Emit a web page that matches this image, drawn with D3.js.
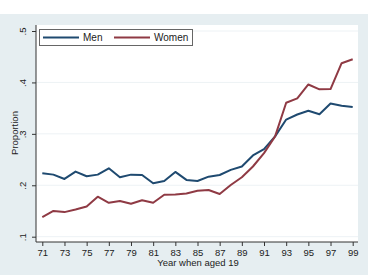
<!DOCTYPE html>
<html lang="en">
<head>
<meta charset="UTF-8">
<style>
    body { margin: 0; background: #fff; }
    svg { display: block; }
    text { font-family: "Liberation Sans", Arial, sans-serif; fill: #222; }
</style>
<script src="https://d3js.org/d3.v7.min.js"></script>
</head>
<body>
<svg width="368" height="275"></svg>
<script>
    var years = d3.range(71, 100);
    var men = [.2235, .2207, .2123, .2266, .2176, .2207, .233, .2157, .2207, .22,
               .204, .2084, .226, .2104, .2084, .2168, .22, .23, .2365, .258,
               .2704, .295, .3278, .3376, .3448, .338, .359, .3546, .352];
    var women = [.138, .150, .1478, .153, .1589, .1777, .166, .1693, .164, .171,
                 .166, .1816, .182, .184, .1895, .1908, .183, .2006, .2157, .2365,
                 .2626, .295, .3604, .3689, .396, .3865, .387, .4374, .445];
    var yTicks = [.1, .2, .3, .4, .5];
    var xTicks = d3.range(71, 100, 2);
    var seriesNames = ["Men", "Women"];
    var seriesColors = ["#1f4a70", "#8f3a44"];

    var svg = d3.select("svg");

    // outer region
    svg.append("rect").attr("width", 368).attr("height", 275).attr("fill", "#e6eef1");
    svg.append("rect").attr("width", 368).attr("height", 14).attr("fill", "#fff");
    // plot region
    svg.append("rect").attr("x", 36).attr("y", 25).attr("width", 322).attr("height", 217).attr("fill", "#fff");

    var x = d3.scaleLinear().domain([71, 99]).range([42.3, 352.7]);
    var y = d3.scaleLinear().domain([.1, .5]).range([236.7, 31]);

    // gridlines
    svg.append("g").selectAll("line")
        .data(yTicks).enter().append("line")
        .attr("x1", 36).attr("x2", 358)
        .attr("y1", function(d) { return y(d); })
        .attr("y2", function(d) { return y(d); })
        .attr("stroke", "#edf2f5").attr("stroke-width", 1);

    // y axis
    var yAxis = svg.append("g").attr("transform", "translate(36,0)")
        .call(d3.axisLeft(y).tickValues(yTicks).tickSize(4).tickPadding(4)
            .tickFormat(function(d) { return d3.format(".1f")(d).replace(/^0/, ""); }));
    yAxis.select(".domain").attr("d", "M0,25V242").attr("stroke", "#333");
    yAxis.selectAll(".tick line").attr("stroke", "#333");
    yAxis.selectAll(".tick text")
        .attr("font-size", 9.5).attr("fill", "#222")
        .attr("text-anchor", "middle")
        .attr("transform", "rotate(-90)")
        .attr("x", 0).attr("y", -10)
        .attr("dy", "0");

    // x axis
    var xAxis = svg.append("g").attr("transform", "translate(0,242)")
        .call(d3.axisBottom(x).tickValues(xTicks).tickSize(4).tickPadding(3).tickFormat(d3.format("d")));
    xAxis.select(".domain").attr("d", "M36,0H358").attr("stroke", "#333");
    xAxis.selectAll(".tick line").attr("stroke", "#333");
    xAxis.selectAll(".tick text").attr("font-size", 9.5).attr("fill", "#222");

    svg.append("text").attr("x", 198).attr("y", 265.5)
        .attr("text-anchor", "middle").attr("font-size", 9.5)
        .text("Year when aged 19");
    svg.append("text").attr("transform", "translate(17.5,133) rotate(-90)")
        .attr("text-anchor", "middle").attr("font-size", 9.5)
        .text("Proportion");

    // lines
    var line = d3.line()
        .x(function(d, i) { return x(years[i]); })
        .y(function(d) { return y(d); });
    [men, women].forEach(function(s, i) {
        svg.append("path").datum(s)
            .attr("d", line)
            .attr("fill", "none")
            .attr("stroke", seriesColors[i])
            .attr("stroke-width", 2)
            .attr("stroke-linejoin", "round");
    });

    // legend
    var legend = svg.append("g");
    legend.append("rect").attr("x", 39.5).attr("y", 29.5).attr("width", 153).attr("height", 16)
        .attr("fill", "#fff").attr("stroke", "#666").attr("stroke-width", 1);
    var lx = [43, 114];
    seriesNames.forEach(function(n, i) {
        legend.append("line").attr("x1", lx[i]).attr("x2", lx[i] + 36)
            .attr("y1", 37.5).attr("y2", 37.5)
            .attr("stroke", seriesColors[i]).attr("stroke-width", 2);
        legend.append("text").attr("x", lx[i] + 40).attr("y", 41.2)
            .attr("font-size", 10).text(n);
    });
</script>
</body>
</html>
